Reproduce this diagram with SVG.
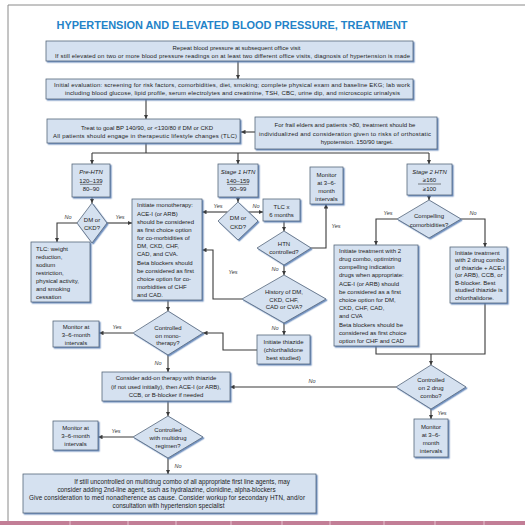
<svg xmlns="http://www.w3.org/2000/svg" width="525" height="525" viewBox="0 0 525 525">
  <defs>
    <filter id="sh" x="-10%" y="-10%" width="130%" height="130%">
      <feDropShadow dx="1.3" dy="1.3" stdDeviation="0.4" flood-color="#5a7fb5" flood-opacity="0.85"/>
    </filter>
    <marker id="ah" viewBox="0 0 6 6" refX="6" refY="3" markerWidth="4.5" markerHeight="4.5" orient="auto" markerUnits="userSpaceOnUse">
      <path d="M0,0 L6,3 L0,6 z" fill="#3a3a3a"/>
    </marker>
  </defs>
  <style>
    .box { fill: #d5e1f0; stroke: #56667a; stroke-width: 0.8; filter: url(#sh); }
    .t { font-family: "Liberation Sans", Arial, sans-serif; font-size: 6px; fill: #222; }
    .big { font-size: 6.3px; }
    .c { text-anchor: middle; }
    .i { font-style: italic; }
    .lbl { font-family: "Liberation Sans", Arial, sans-serif; font-size: 5.5px; font-style: italic; fill: #333; text-anchor: middle; }
    .ln { fill: none; stroke: #3a3a3a; stroke-width: 1.1; }
    .arr { marker-end: url(#ah); }
    .frac { stroke: #333; stroke-width: 0.6; }
  </style>

  <rect width="525" height="525" fill="#ffffff"/>
  <!-- page frame -->
  <path d="M8,521 V5 H525" fill="none" stroke="#8a8a8a" stroke-width="1"/>
  <rect x="0" y="521" width="525" height="4" fill="#c27e96"/>
  <g stroke="#e6c4d0" stroke-width="1">
    <line x1="70" y1="521" x2="70" y2="525"/><line x1="128" y1="521" x2="128" y2="525"/>
    <line x1="176" y1="521" x2="176" y2="525"/><line x1="231" y1="521" x2="231" y2="525"/>
    <line x1="282" y1="521" x2="282" y2="525"/><line x1="330" y1="521" x2="330" y2="525"/>
    <line x1="384" y1="521" x2="384" y2="525"/><line x1="435" y1="521" x2="435" y2="525"/>
    <line x1="484" y1="521" x2="484" y2="525"/>
  </g>

  <text x="232" y="28.5" text-anchor="middle" font-family="'Liberation Sans', Arial, sans-serif" font-weight="bold" font-size="10.5" fill="#2383c8" textLength="351" lengthAdjust="spacingAndGlyphs">HYPERTENSION AND ELEVATED BLOOD PRESSURE, TREATMENT</text>

  <!-- connectors -->
  <g id="connectors">
    <path class="ln arr" d="M238,61 V79"/>
    <path class="ln arr" d="M146,99 V119"/>
    <path class="ln arr" d="M255,132 H241"/>
    <path class="ln" d="M146,143 V153 M92,153 H429"/>
    <path class="ln arr" d="M92,153 V164"/>
    <path class="ln arr" d="M238,153 V164"/>
    <path class="ln arr" d="M429,153 V164"/>

    <!-- Pre-HTN branch -->
    <path class="ln arr" d="M92,197 V203"/>
    <path class="ln arr" d="M77,223 H57 V242"/>
    <path class="ln arr" d="M107,223 H132"/>
    <path class="ln arr" d="M168,300 V311"/>
    <path class="ln arr" d="M133,333 H99"/>
    <path class="ln arr" d="M168,355 V372"/>
    <path class="ln arr" d="M168,401 V416"/>
    <path class="ln arr" d="M133,437 H98"/>
    <path class="ln arr" d="M168,458 V474"/>

    <!-- Stage 1 branch -->
    <path class="ln arr" d="M238,197 V202"/>
    <path class="ln arr" d="M227.5,212 H202"/>
    <path class="ln arr" d="M248.5,212 H263"/>
    <path class="ln arr" d="M284,221 V231"/>
    <path class="ln arr" d="M311,248 H326 V204"/>
    <path class="ln arr" d="M284,265 V275"/>
    <path class="ln arr" d="M242,299 H213 V250 H202"/>
    <path class="ln arr" d="M284,323 V335"/>
    <path class="ln arr" d="M257,350 H223 V333 H203"/>

    <!-- Stage 2 branch -->
    <path class="ln arr" d="M429,195 V200"/>
    <path class="ln arr" d="M397,219 H376 V245"/>
    <path class="ln arr" d="M461,219 H485 V247"/>
    <path class="ln" d="M376,346 V354 H485 V303"/>
    <path class="ln arr" d="M431,354 V365"/>
    <path class="ln arr" d="M396,387 H230"/>
    <path class="ln arr" d="M431,409 V419"/>
  </g>

  <!-- branch labels -->
  <g id="labels">
    <text class="lbl" x="68" y="219">No</text>
    <text class="lbl" x="120" y="219">Yes</text>
    <text class="lbl" x="218" y="208">Yes</text>
    <text class="lbl" x="256" y="208">No</text>
    <text class="lbl" x="336" y="228">Yes</text>
    <text class="lbl" x="275" y="271">No</text>
    <text class="lbl" x="233" y="274">Yes</text>
    <text class="lbl" x="275" y="330">No</text>
    <text class="lbl" x="117" y="329">Yes</text>
    <text class="lbl" x="158" y="365">No</text>
    <text class="lbl" x="116" y="433">Yes</text>
    <text class="lbl" x="178" y="468">No</text>
    <text class="lbl" x="388" y="215">Yes</text>
    <text class="lbl" x="473" y="215">No</text>
    <text class="lbl" x="312" y="383">No</text>
    <text class="lbl" x="442" y="415">Yes</text>
  </g>

  <g id="repeat-bp">
    <rect class="box" x="46" y="41" width="367" height="20"/>
    <text class="t c" x="236.5" y="50">Repeat blood pressure at subsequent office visit</text>
    <text class="t c" x="232.5" y="58" textLength="355">If still elevated on two or more blood pressure readings on at least two different office visits, diagnosis of hypertension is made</text>
  </g>

  <g id="initial-eval">
    <rect class="box" x="46" y="79" width="367" height="20"/>
    <text class="t c" x="232" y="87" textLength="356">Initial evaluation: screening for risk factors, comorbidities, diet, smoking; complete physical exam and baseline EKG; lab work</text>
    <text class="t c" x="232.5" y="95" textLength="335">including blood glucose, lipid profile, serum electrolytes and creatinine, TSH, CBC, urine dip, and microscopic urinalysis</text>
  </g>

  <g id="treat-goal">
    <rect class="box" x="47" y="119" width="193" height="24"/>
    <text class="t c" x="147" y="130">Treat to goal BP 140/90, or &lt;130/80 if DM or CKD</text>
    <text class="t c" x="145" y="138" textLength="184">All patients should engage in therapeutic lifestyle changes (TLC)</text>
  </g>

  <g id="frail-elders">
    <rect class="box" x="255" y="117" width="182" height="32"/>
    <text class="t c" x="345" y="127">For frail elders and patients &gt;80, treatment should be</text>
    <text class="t c" x="345" y="135.5" textLength="172">individualized and consideration given to risks of orthostatic</text>
    <text class="t c" x="357" y="144">hypotension. 150/90 target.</text>
  </g>

  <g id="pre-htn">
    <rect class="box" x="72" y="164" width="38" height="33"/>
    <text class="t c i" x="91" y="174">Pre-HTN</text>
    <text class="t c" x="91" y="182.5">120–139</text>
    <line class="frac" x1="80" y1="184.3" x2="102" y2="184.3"/>
    <text class="t c" x="91" y="191">80–90</text>
  </g>

  <g id="stage1-htn">
    <rect class="box" x="218" y="164" width="40" height="33"/>
    <text class="t c i" x="238" y="174">Stage 1 HTN</text>
    <text class="t c" x="238" y="182.5">140–159</text>
    <line class="frac" x1="227" y1="184.3" x2="249" y2="184.3"/>
    <text class="t c" x="238" y="191">90–99</text>
  </g>

  <g id="stage2-htn">
    <rect class="box" x="407" y="164" width="45" height="31"/>
    <text class="t c i" x="429.5" y="174">Stage 2 HTN</text>
    <text class="t c" x="429.5" y="182">≥160</text>
    <line class="frac" x1="418" y1="184" x2="441" y2="184"/>
    <text class="t c" x="429.5" y="190.5">≥100</text>
  </g>

  <g id="monitor-stage1">
    <rect class="box" x="310" y="167" width="33" height="37"/>
    <text class="t c" x="326.5" y="177">Monitor</text>
    <text class="t c" x="326.5" y="185">at 3–6-</text>
    <text class="t c" x="326.5" y="193">month</text>
    <text class="t c" x="326.5" y="201">intervals</text>
  </g>

  <g id="dm-ckd-pre">
    <polygon class="box" points="92,203 107,223 92,243 77,223"/>
    <text class="t c" x="92" y="221.5">DM or</text>
    <text class="t c" x="92" y="229.5">CKD?</text>
  </g>

  <g id="tlc-lifestyle">
    <rect class="box" x="31" y="242" width="59" height="60"/>
    <text class="t" x="36" y="250.5">TLC: weight</text>
    <text class="t" x="36" y="258.5">reduction,</text>
    <text class="t" x="36" y="266.5">sodium</text>
    <text class="t" x="36" y="274.5">restriction,</text>
    <text class="t" x="36" y="282.5">physical activity,</text>
    <text class="t" x="36" y="290.5">and smoking</text>
    <text class="t" x="36" y="298.5">cessation</text>
  </g>

  <g id="monotherapy">
    <rect class="box" x="132" y="199" width="70" height="101"/>
    <text class="t" x="137" y="207">Initiate monotherapy:</text>
    <text class="t" x="137" y="215.5">ACE-I (or ARB)</text>
    <text class="t" x="137" y="223.5">should be considered</text>
    <text class="t" x="137" y="231.5">as first choice option</text>
    <text class="t" x="137" y="239.5">for co-morbidities of</text>
    <text class="t" x="137" y="247.5">DM, CKD, CHF,</text>
    <text class="t" x="137" y="255.5">CAD, and CVA.</text>
    <text class="t" x="137" y="264.5">Beta blockers should</text>
    <text class="t" x="137" y="272.5">be considered as first</text>
    <text class="t" x="137" y="280.5">choice option for co-</text>
    <text class="t" x="137" y="288.5">morbidities of CHF</text>
    <text class="t" x="137" y="296.5">and CAD.</text>
  </g>

  <g id="dm-ckd-stage1">
    <polygon class="box" points="238,202 258,221 238,240 218,221"/>
    <text class="t c" x="238" y="220">DM or</text>
    <text class="t c" x="238" y="228.5">CKD?</text>
  </g>

  <g id="tlc-6-months">
    <rect class="box" x="263" y="199" width="37" height="22"/>
    <text class="t c" x="281.5" y="209">TLC x</text>
    <text class="t c" x="281.5" y="217">6 months</text>
  </g>

  <g id="htn-controlled">
    <polygon class="box" points="284,231 311,248 284,265 257,248"/>
    <text class="t c" x="284" y="246">HTN</text>
    <text class="t c" x="284" y="254">controlled?</text>
  </g>

  <g id="history">
    <polygon class="box" points="284,275 326,299 284,323 242,299"/>
    <text class="t c" x="284" y="294">History of DM,</text>
    <text class="t c" x="284" y="301.5">CKD, CHF,</text>
    <text class="t c" x="284" y="309">CAD or CVA?</text>
  </g>

  <g id="thiazide">
    <rect class="box" x="257" y="335" width="53" height="29"/>
    <text class="t c" x="283.5" y="344">Initiate thiazide</text>
    <text class="t c" x="283.5" y="352">(chlorthalidone</text>
    <text class="t c" x="283.5" y="360">best studied)</text>
  </g>

  <g id="controlled-mono">
    <polygon class="box" points="168,311 203,333 168,355 133,333"/>
    <text class="t c" x="168" y="330">Controlled</text>
    <text class="t c" x="168" y="337.5">on mono-</text>
    <text class="t c" x="168" y="345">therapy?</text>
  </g>

  <g id="monitor-mono">
    <rect class="box" x="53" y="321" width="46" height="26"/>
    <text class="t c" x="76" y="329">Monitor at</text>
    <text class="t c" x="76" y="337">3–6-month</text>
    <text class="t c" x="76" y="345">intervals</text>
  </g>

  <g id="add-on">
    <rect class="box" x="102" y="372" width="128" height="29"/>
    <text class="t c" x="166" y="380">Consider add-on therapy with thiazide</text>
    <text class="t c" x="166" y="388.5">(if not used initially), then ACE-I (or ARB),</text>
    <text class="t c" x="166" y="397">CCB, or B-blocker if needed</text>
  </g>

  <g id="controlled-multi">
    <polygon class="box" points="168,416 203,437 168,458 133,437"/>
    <text class="t c" x="168" y="432">Controlled</text>
    <text class="t c" x="168" y="440">with multidrug</text>
    <text class="t c" x="168" y="448">regimen?</text>
  </g>

  <g id="monitor-multi">
    <rect class="box" x="53" y="421" width="45" height="29"/>
    <text class="t c" x="75.5" y="430">Monitor at</text>
    <text class="t c" x="75.5" y="438">3–6-month</text>
    <text class="t c" x="75.5" y="446">intervals</text>
  </g>

  <g id="uncontrolled">
    <rect class="box" x="23" y="474" width="293" height="39"/>
    <text class="t big c" x="182" y="484">If still uncontrolled on multidrug combo of all appropriate first line agents, may</text>
    <text class="t big c" x="166.5" y="492">consider adding 2nd-line agent, such as hydralazine, clonidine, alpha-blockers</text>
    <text class="t big c" x="167" y="500" textLength="276">Give consideration to med nonadherence as cause. Consider workup for secondary HTN, and/or</text>
    <text class="t big c" x="168.5" y="508">consultation with hypertension specialist</text>
  </g>

  <g id="compelling">
    <polygon class="box" points="429,200 461,219 429,238 397,219"/>
    <text class="t c" x="429" y="218">Compelling</text>
    <text class="t c" x="429" y="226.5">comorbidities?</text>
  </g>

  <g id="two-drug-compelling">
    <rect class="box" x="334" y="245" width="84" height="101"/>
    <text class="t" x="339" y="253">Initiate treatment with 2</text>
    <text class="t" x="339" y="261">drug combo, optimizing</text>
    <text class="t" x="339" y="269">compelling indication</text>
    <text class="t" x="339" y="277">drugs when appropriate:</text>
    <text class="t" x="339" y="286">ACE-I (or ARB) should</text>
    <text class="t" x="339" y="294">be considered as a first</text>
    <text class="t" x="339" y="302">choice option for DM,</text>
    <text class="t" x="339" y="310">CKD, CHF, CAD,</text>
    <text class="t" x="339" y="318">and CVA</text>
    <text class="t" x="339" y="327">Beta blockers should be</text>
    <text class="t" x="339" y="335">considered as first choice</text>
    <text class="t" x="339" y="343">option for CHF and CAD</text>
  </g>

  <g id="two-drug-thiazide">
    <rect class="box" x="450" y="247" width="57" height="56"/>
    <text class="t" x="455" y="254.5">Initiate treatment</text>
    <text class="t" x="455" y="262">with 2 drug combo</text>
    <text class="t" x="455" y="269.5">of thiazide + ACE-I</text>
    <text class="t" x="455" y="277">(or ARB), CCB, or</text>
    <text class="t" x="455" y="284.5">B-blocker. Best</text>
    <text class="t" x="455" y="292">studied thiazide is</text>
    <text class="t" x="455" y="299.5">chlorthalidone.</text>
  </g>

  <g id="controlled-two">
    <polygon class="box" points="431,365 466,387 431,409 396,387"/>
    <text class="t c" x="431" y="382">Controlled</text>
    <text class="t c" x="431" y="390">on 2 drug</text>
    <text class="t c" x="431" y="397.5">combo?</text>
  </g>

  <g id="monitor-two">
    <rect class="box" x="414" y="419" width="34" height="38"/>
    <text class="t c" x="431" y="429">Monitor</text>
    <text class="t c" x="431" y="437">at 3–6-</text>
    <text class="t c" x="431" y="445">month</text>
    <text class="t c" x="431" y="453">intervals</text>
  </g>
</svg>
